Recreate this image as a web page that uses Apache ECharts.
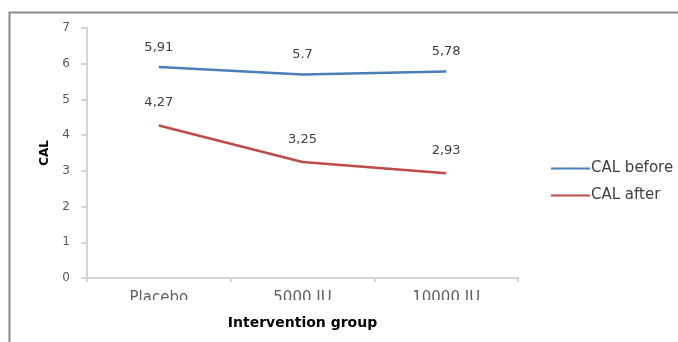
<!DOCTYPE html>
<html>
<head>
<meta charset="utf-8">
<script src="https://cdn.jsdelivr.net/npm/echarts@6/dist/echarts.min.js"></script>
<style>
  html, body { margin: 0; padding: 0; background: #fff; }
  #chart { width: 678px; height: 342px; }
</style>
</head>
<body>
<div id="chart"></div>
<script>
// Intervention groups and CAL means before / after
const groups = ['Placebo', '5000 IU', '10000 IU'];
const calBefore = [5.91, 5.7, 5.78];
const calAfter = [4.27, 3.25, 2.93];
// decimal separators as printed on each point label
const beforeSep = [',', '.', ','];
const afterSep = [',', ',', ','];
const yTicks = { min: 0, max: 7, interval: 1 };

const FONT = '"DejaVu Sans", Verdana, sans-serif';

function labelFrom(seps) {
  return p => String(p.value).replace('.', seps[p.dataIndex]);
}

const chart = echarts.init(document.getElementById('chart'), null, { renderer: 'canvas' });
chart.setOption({
  animation: false,
  backgroundColor: '#ffffff',
  grid: { left: 87, right: 160, top: 28, bottom: 64, containLabel: false },
  legend: {
    orient: 'vertical',
    left: 546,
    top: 156,
    itemWidth: 39,
    itemHeight: 2,
    itemGap: 12,
    itemStyle: { borderWidth: 0 },
    icon: 'rect',
    textStyle: { fontFamily: FONT, fontSize: 15, color: '#404040', padding: [0, 0, 0, -4] },
    data: ['CAL before', 'CAL after']
  },
  xAxis: {
    type: 'category',
    data: groups,
    boundaryGap: true,
    name: 'Intervention group',
    nameLocation: 'middle',
    nameGap: 38,
    nameTextStyle: { fontFamily: FONT, fontSize: 14, fontWeight: 'bold', color: '#000' },
    axisLine: { lineStyle: { color: '#d4d4d4', width: 2 } },
    axisTick: { show: true, length: 4, lineStyle: { color: '#d4d4d4', width: 2 } },
    axisLabel: { fontFamily: FONT, fontSize: 15, color: '#606060', margin: 13 },
    splitLine: { show: false }
  },
  yAxis: {
    type: 'value',
    min: yTicks.min,
    max: yTicks.max,
    interval: yTicks.interval,
    name: 'CAL',
    nameLocation: 'middle',
    nameGap: 36,
    nameRotate: 90,
    nameTextStyle: { fontFamily: FONT, fontSize: 12, fontWeight: 'bold', color: '#000' },
    axisLine: { show: true, lineStyle: { color: '#d4d4d4', width: 2 } },
    axisTick: { show: true, length: 6, lineStyle: { color: '#d4d4d4', width: 2 } },
    axisLabel: { fontFamily: FONT, fontSize: 12, color: '#595959', margin: 17 },
    splitLine: { show: false }
  },
  series: [
    {
      name: 'CAL before',
      type: 'line',
      data: calBefore,
      symbol: 'circle',
      symbolSize: 0.1,
      showSymbol: true,
      color: '#4a7ebb',
      lineStyle: { width: 2.5, color: '#4a7ebb' },
      label: {
        show: true, position: 'top', distance: 13,
        fontFamily: FONT, fontSize: 13, color: '#404040',
        formatter: labelFrom(beforeSep)
      }
    },
    {
      name: 'CAL after',
      type: 'line',
      data: calAfter,
      symbol: 'circle',
      symbolSize: 0.1,
      showSymbol: true,
      color: '#be4b48',
      lineStyle: { width: 2.5, color: '#be4b48' },
      label: {
        show: true, position: 'top', distance: 16,
        fontFamily: FONT, fontSize: 13, color: '#404040',
        formatter: labelFrom(afterSep)
      }
    }
  ],
  graphic: [
    {
      type: 'rect',
      shape: { x: 9.5, y: 12.5, width: 700, height: 400 },
      style: { fill: 'none', stroke: '#8c8c8c', lineWidth: 2 },
      silent: true
    },
    {
      // the category labels are trimmed at their lower edge
      type: 'rect',
      z: 100,
      shape: { x: 95, y: 300, width: 420, height: 8 },
      style: { fill: '#ffffff' },
      silent: true
    }
  ]
});
</script>
</body>
</html>
